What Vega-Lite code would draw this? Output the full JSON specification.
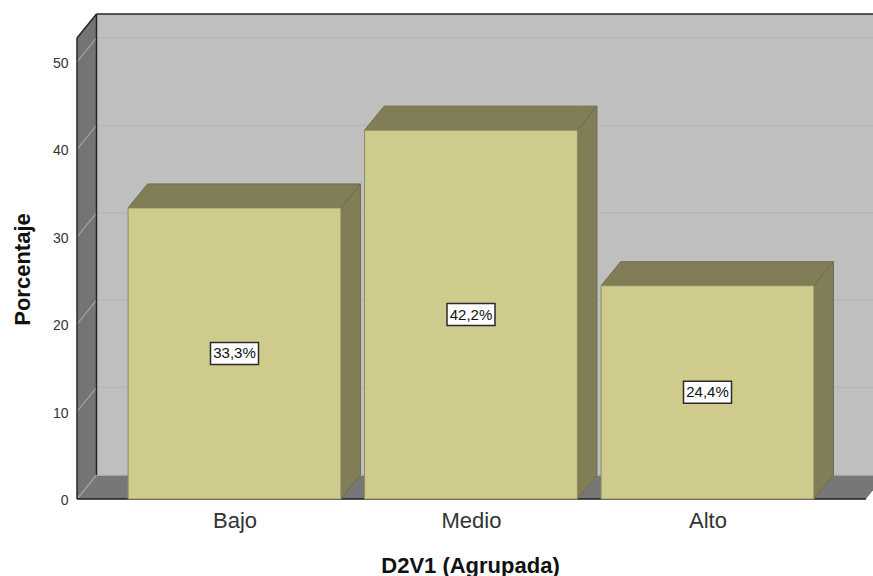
{
  "$schema": "https://vega.github.io/schema/vega-lite/v6.json",
  "width": 796,
  "height": 485,
  "autosize": {"type": "none"},
  "padding": {"left": 77, "top": 14, "right": 0, "bottom": 77},
  "background": "white",
  "config": {"view": {"stroke": null}},
  "params": [
    {"name": "fx", "value": 0.0825},
    {"name": "fy", "value": 2.746},
    {"name": "xi", "value": 0.33404},
    {"name": "xd", "value": 3.67},
    {"name": "ys", "value": 52.75},
    {"name": "med", "value": 0.45}
  ],
  "datasets": {
    "barras": [
      {"categoria": "Bajo", "porcentaje": 33.3},
      {"categoria": "Medio", "porcentaje": 42.2},
      {"categoria": "Alto", "porcentaje": 24.4}
    ],
    "marcas": [
      {"marca": 0}, {"marca": 10}, {"marca": 20}, {"marca": 30}, {"marca": 40}, {"marca": 50}
    ],
    "esquinas": [
      {"esquina": 0}, {"esquina": 1}, {"esquina": 2}, {"esquina": 3}
    ]
  },
  "layer": [
    {
      "description": "Back wall, also carrying both axes",
      "data": {"values": [{}]},
      "mark": {"type": "rect", "fill": "#bfbfbf", "clip": true},
      "encoding": {
        "x": {
          "datum": 0.4165, "type": "quantitative",
          "scale": {"domain": [0.33404, 3.69979], "nice": false, "zero": false},
          "axis": {
            "values": [1, 2, 3],
            "labelExpr": "['Bajo','Medio','Alto'][datum.value-1]",
            "title": "D2V1 (Agrupada)",
            "grid": false, "domain": false, "ticks": false,
            "labelFont": "Liberation Sans", "labelFontSize": 22, "labelColor": "#333333", "labelPadding": 11,
            "titleFont": "Liberation Sans", "titleFontSize": 22, "titleFontWeight": "bold", "titleColor": "#111111",
            "titleX": 393, "titleY": 66, "titleBaseline": "middle"
          }
        },
        "x2": {"datum": 3.75},
        "y": {
          "datum": 2.746, "type": "quantitative",
          "scale": {"domain": [0, 55.49], "nice": false, "zero": false},
          "axis": {
            "values": [0, 10, 20, 30, 40, 50],
            "title": "Porcentaje",
            "grid": false, "domain": false, "ticks": false,
            "labelFont": "Liberation Sans", "labelFontSize": 14, "labelColor": "#333333", "labelPadding": 9, "labelOffset": 1.5,
            "titleFont": "Liberation Sans", "titleFontSize": 22, "titleFontWeight": "bold", "titleColor": "#111111",
            "titleX": -55, "titleY": 255, "titleBaseline": "middle"
          }
        },
        "y2": {"datum": 55.49}
      }
    },
    {
      "description": "Left wall",
      "data": {"name": "esquinas"},
      "transform": [
        {"filter": "datum.esquina < 2"},
        {"calculate": "xi + datum.esquina * fx", "as": "xv"},
        {"calculate": "datum.esquina * fy", "as": "y0"},
        {"calculate": "ys + datum.esquina * fy", "as": "y1"}
      ],
      "mark": {"type": "area", "orient": "vertical", "fill": "#747474", "interpolate": "linear"},
      "encoding": {
        "x": {"field": "xv", "type": "quantitative", "scale": {"domain": [0.33404, 3.69979], "nice": false, "zero": false}},
        "y": {"field": "y0", "type": "quantitative", "scale": {"domain": [0, 55.49], "nice": false, "zero": false}},
        "y2": {"field": "y1"}
      }
    },
    {
      "description": "Floor",
      "data": {"name": "esquinas"},
      "transform": [
        {"calculate": "[xi, xi + fx, xd, xd + fx][datum.esquina]", "as": "xv"},
        {"calculate": "[0, 0, 0, fy][datum.esquina]", "as": "y0"},
        {"calculate": "[0, fy, fy, fy][datum.esquina]", "as": "y1"}
      ],
      "mark": {"type": "area", "orient": "vertical", "fill": "#777777", "interpolate": "linear", "clip": true},
      "encoding": {
        "x": {"field": "xv", "type": "quantitative", "scale": {"domain": [0.33404, 3.69979], "nice": false, "zero": false}},
        "y": {"field": "y0", "type": "quantitative", "scale": {"domain": [0, 55.49], "nice": false, "zero": false}},
        "y2": {"field": "y1"}
      }
    },
    {
      "description": "Gridlines across the back wall",
      "data": {"name": "marcas"},
      "transform": [
        {"calculate": "datum.marca + fy", "as": "yv"},
        {"calculate": "xi + fx", "as": "xa"},
        {"calculate": "3.8", "as": "xb"}
      ],
      "mark": {"type": "rule", "stroke": "#b6b6b6", "strokeWidth": 1.5, "clip": true},
      "encoding": {
        "x": {"field": "xa", "type": "quantitative", "scale": {"domain": [0.33404, 3.69979], "nice": false, "zero": false}},
        "x2": {"field": "xb"},
        "y": {"field": "yv", "type": "quantitative", "scale": {"domain": [0, 55.49], "nice": false, "zero": false}}
      }
    },
    {
      "description": "Gridlines slanting over the left wall",
      "data": {"name": "marcas"},
      "transform": [
        {"calculate": "datum.marca + fy", "as": "yv"},
        {"calculate": "xi + fx", "as": "xb"},
        {"calculate": "xi", "as": "xa"}
      ],
      "mark": {"type": "rule", "stroke": "#a3a3a3", "strokeWidth": 1.2},
      "encoding": {
        "x": {"field": "xa", "type": "quantitative", "scale": {"domain": [0.33404, 3.69979], "nice": false, "zero": false}},
        "x2": {"field": "xb"},
        "y": {"field": "marca", "type": "quantitative", "scale": {"domain": [0, 55.49], "nice": false, "zero": false}},
        "y2": {"field": "yv"}
      }
    },
    {
      "description": "Dark edge: left wall, front side",
      "data": {"values": [{}]},
      "mark": {"type": "rule", "stroke": "#262626", "strokeWidth": 1.5},
      "encoding": {
        "x": {"datum": 0.33404, "type": "quantitative", "scale": {"domain": [0.33404, 3.69979], "nice": false, "zero": false}},
        "y": {"datum": 0, "type": "quantitative", "scale": {"domain": [0, 55.49], "nice": false, "zero": false}},
        "y2": {"datum": 52.75}
      }
    },
    {
      "description": "Dark edge: left wall, top slant",
      "data": {"values": [{}]},
      "mark": {"type": "rule", "stroke": "#262626", "strokeWidth": 1.5},
      "encoding": {
        "x": {"datum": 0.33404, "type": "quantitative", "scale": {"domain": [0.33404, 3.69979], "nice": false, "zero": false}},
        "x2": {"datum": 0.41654},
        "y": {"datum": 52.75, "type": "quantitative", "scale": {"domain": [0, 55.49], "nice": false, "zero": false}},
        "y2": {"datum": 55.49}
      }
    },
    {
      "description": "Dark edge: back corner of the walls",
      "data": {"values": [{}]},
      "mark": {"type": "rule", "stroke": "#262626", "strokeWidth": 1.5},
      "encoding": {
        "x": {"datum": 0.41654, "type": "quantitative", "scale": {"domain": [0.33404, 3.69979], "nice": false, "zero": false}},
        "y": {"datum": 2.746, "type": "quantitative", "scale": {"domain": [0, 55.49], "nice": false, "zero": false}},
        "y2": {"datum": 55.49}
      }
    },
    {
      "description": "Dark edge: top of the back wall",
      "data": {"values": [{}]},
      "mark": {"type": "rule", "stroke": "#262626", "strokeWidth": 1.5, "clip": false},
      "encoding": {
        "x": {"datum": 0.41654, "type": "quantitative", "scale": {"domain": [0.33404, 3.69979], "nice": false, "zero": false}},
        "x2": {"datum": 3.69979},
        "y": {"datum": 55.49, "type": "quantitative", "scale": {"domain": [0, 55.49], "nice": false, "zero": false}}
      }
    },
    {
      "description": "Dark edge: front of the floor",
      "data": {"values": [{}]},
      "mark": {"type": "rule", "stroke": "#1c1c1c", "strokeWidth": 1.5},
      "encoding": {
        "x": {"datum": 0.33404, "type": "quantitative", "scale": {"domain": [0.33404, 3.69979], "nice": false, "zero": false}},
        "x2": {"datum": 3.67},
        "y": {"datum": 0, "type": "quantitative", "scale": {"domain": [0, 55.49], "nice": false, "zero": false}}
      }
    },
    {
      "description": "Top face of each bar",
      "data": {"name": "barras"},
      "transform": [
        {"calculate": "indexof(['Bajo','Medio','Alto'], datum.categoria) + 1", "as": "orden"},
        {"calculate": "[0, 1, 2, 3]", "as": "v"},
        {"flatten": ["v"]},
        {"calculate": "[datum.orden - med, datum.orden - med + fx, datum.orden + med, datum.orden + med + fx][datum.v]", "as": "xv"},
        {"calculate": "datum.porcentaje + (datum.v == 3 ? fy : 0)", "as": "y0"},
        {"calculate": "datum.porcentaje + (datum.v == 0 ? 0 : fy)", "as": "y1"}
      ],
      "mark": {"type": "area", "orient": "vertical", "fill": "#807d57", "stroke": "#6f6c4a", "strokeWidth": 1, "interpolate": "linear"},
      "encoding": {
        "detail": {"field": "categoria"},
        "x": {"field": "xv", "type": "quantitative", "scale": {"domain": [0.33404, 3.69979], "nice": false, "zero": false}},
        "y": {"field": "y0", "type": "quantitative", "scale": {"domain": [0, 55.49], "nice": false, "zero": false}},
        "y2": {"field": "y1"}
      }
    },
    {
      "description": "Side face of each bar",
      "data": {"name": "barras"},
      "transform": [
        {"calculate": "indexof(['Bajo','Medio','Alto'], datum.categoria) + 1", "as": "orden"},
        {"calculate": "[0, 1]", "as": "v"},
        {"flatten": ["v"]},
        {"calculate": "datum.orden + med + datum.v * fx", "as": "xv"},
        {"calculate": "datum.v * fy", "as": "y0"},
        {"calculate": "datum.porcentaje + datum.v * fy", "as": "y1"}
      ],
      "mark": {"type": "area", "orient": "vertical", "fill": "#807d57", "stroke": "#6f6c4a", "strokeWidth": 1, "interpolate": "linear"},
      "encoding": {
        "detail": {"field": "categoria"},
        "x": {"field": "xv", "type": "quantitative", "scale": {"domain": [0.33404, 3.69979], "nice": false, "zero": false}},
        "y": {"field": "y0", "type": "quantitative", "scale": {"domain": [0, 55.49], "nice": false, "zero": false}},
        "y2": {"field": "y1"}
      }
    },
    {
      "description": "Front face of each bar",
      "data": {"name": "barras"},
      "transform": [
        {"calculate": "indexof(['Bajo','Medio','Alto'], datum.categoria) + 1", "as": "orden"},
        {"calculate": "datum.orden - med", "as": "xa"},
        {"calculate": "datum.orden + med", "as": "xb"}
      ],
      "mark": {"type": "rect", "fill": "#cfcb8c", "stroke": "#8f8c62", "strokeWidth": 1},
      "encoding": {
        "x": {"field": "xa", "type": "quantitative", "scale": {"domain": [0.33404, 3.69979], "nice": false, "zero": false}},
        "x2": {"field": "xb"},
        "y": {"field": "porcentaje", "type": "quantitative", "scale": {"domain": [0, 55.49], "nice": false, "zero": false}},
        "y2": {"datum": 0}
      }
    },
    {
      "description": "White box behind each value label",
      "data": {"name": "barras"},
      "transform": [
        {"calculate": "indexof(['Bajo','Medio','Alto'], datum.categoria) + 1", "as": "orden"},
        {"calculate": "datum.porcentaje / 2", "as": "mitad"}
      ],
      "mark": {"type": "rect", "fill": "white", "stroke": "#2a2a2a", "strokeWidth": 1.5, "width": 48, "height": 22},
      "encoding": {
        "x": {"field": "orden", "type": "quantitative", "scale": {"domain": [0.33404, 3.69979], "nice": false, "zero": false}},
        "y": {"field": "mitad", "type": "quantitative", "scale": {"domain": [0, 55.49], "nice": false, "zero": false}}
      }
    },
    {
      "description": "Value labels, with a decimal comma",
      "data": {"name": "barras"},
      "transform": [
        {"calculate": "indexof(['Bajo','Medio','Alto'], datum.categoria) + 1", "as": "orden"},
        {"calculate": "datum.porcentaje / 2", "as": "mitad"},
        {"calculate": "replace(format(datum.porcentaje, '.1f'), '.', ',') + '%'", "as": "etiqueta"}
      ],
      "mark": {"type": "text", "font": "Liberation Sans", "fontSize": 15, "color": "#111111", "align": "center", "baseline": "middle"},
      "encoding": {
        "x": {"field": "orden", "type": "quantitative", "scale": {"domain": [0.33404, 3.69979], "nice": false, "zero": false}},
        "y": {"field": "mitad", "type": "quantitative", "scale": {"domain": [0, 55.49], "nice": false, "zero": false}},
        "text": {"field": "etiqueta"}
      }
    }
  ]
}
